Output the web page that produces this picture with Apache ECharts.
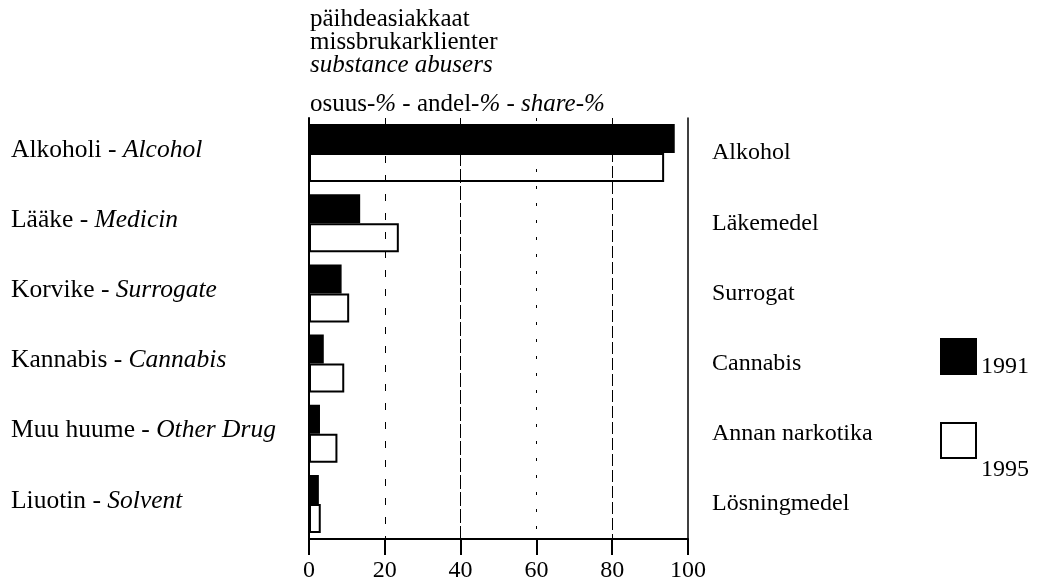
<!DOCTYPE html>
<html><head><meta charset="utf-8">
<script src="https://cdn.jsdelivr.net/npm/echarts@6/dist/echarts.min.js"></script>
<style>html,body{margin:0;padding:0;background:#fff}#c{width:1037px;height:583px}</style>
</head><body><div id="c"></div>
<script>
const catsFi = ['Alkoholi','Lääke','Korvike','Kannabis','Muu huume','Liuotin'];
const catsEn = ['Alcohol','Medicin','Surrogate','Cannabis','Other Drug','Solvent'];
const catsSv = ['Alkohol','Läkemedel','Surrogat','Cannabis','Annan narkotika','Lösningmedel'];
const v1991 = [96.5, 13.5, 8.6, 3.9, 2.9, 2.6];
const v1995 = [93.7, 23.7, 10.6, 9.3, 7.5, 3.1];
const xTicks = [0, 20, 40, 60, 80, 100];
const gridValues = [20, 40, 60, 80];

const F = 'Liberation Serif';
const FS = 24;
const chart = echarts.init(document.getElementById('c'));
const dashTypes = {20:[7,12], 40:[14,3], 60:[3,14], 80:[12,4]};
const tRich = (lh, fs) => ({
  n: {fontFamily: F, fontSize: fs, fontWeight: 'normal', lineHeight: lh, color: '#000'},
  i: {fontFamily: F, fontSize: fs, fontWeight: 'normal', fontStyle: 'italic', lineHeight: lh, color: '#000'}
});
chart.setOption({
  animation: false,
  textStyle: {fontFamily: F, color: '#000'},
  title: [
    {left: 310, top: 8, padding: 0, text: '{n|päihdeasiakkaat}\n{n|missbrukarklienter}\n{i|substance abusers}',
     textStyle: {fontWeight: 'normal', rich: tRich(23, 25)}},
    {left: 310, top: 91, padding: 0, text: '{n|osuus-}{i|%}{n| - andel-}{i|%}{n| - }{i|share-%}',
     textStyle: {fontWeight: 'normal', rich: tRich(26, 25)}}
  ],
  legend: [
    {data: ['1991'], left: 940, top: 338, padding: 0, orient: 'vertical', itemWidth: 35, itemHeight: 35, icon: 'rect',
     formatter: '{a|{name}}',
     textStyle: {fontFamily: F, fontSize: FS, color: '#000',
       rich: {a: {fontFamily: F, fontSize: FS, color: '#000', padding: [21, 0, 0, 0]}}}},
    {data: ['1995'], left: 940, top: 422, padding: 0, orient: 'vertical', itemWidth: 35, itemHeight: 35, icon: 'rect',
     formatter: '{a|{name}}',
     textStyle: {fontFamily: F, fontSize: FS, color: '#000',
       rich: {a: {fontFamily: F, fontSize: FS, color: '#000', padding: [58, 0, 0, 0]}}}}
  ],
  grid: {left: 309, right: 349, top: 118, bottom: 44, containLabel: false},
  xAxis: {
    type: 'value', min: 0, max: 100, interval: 20,
    axisLine: {show: true, lineStyle: {color: '#000', width: 2}},
    axisTick: {show: true, length: 16, lineStyle: {color: '#000', width: 2}},
    axisLabel: {margin: 20, fontFamily: F, fontSize: FS, color: '#000',
      formatter: v => xTicks.includes(v) ? String(v) : ''},
    splitLine: {show: false}
  },
  yAxis: [
    {type: 'category', inverse: true, data: catsFi, position: 'left',
     axisLine: {show: true, lineStyle: {color: '#000', width: 2}},
     axisTick: {show: false},
     axisLabel: {align: 'left', margin: 298, padding: [0, 0, 6, 0],
       formatter: (v, i) => '{n|' + catsFi[i] + ' - }{i|' + catsEn[i] + '}',
       rich: {n: {fontFamily: F, fontSize: 25.5, color: '#000'},
              i: {fontFamily: F, fontSize: 25.5, fontStyle: 'italic', color: '#000'}}}},
    {type: 'category', inverse: true, data: catsSv, position: 'right',
     axisLine: {show: true, lineStyle: {color: '#000', width: 1.5}},
     axisTick: {show: false},
     axisLabel: {align: 'left', margin: 24, padding: [0, 0, 12, 0], fontFamily: F, fontSize: FS, color: '#000'}}
  ],
  series: [
    {type: 'line', data: [], z: 1, silent: true,
     markLine: {silent: true, symbol: 'none', label: {show: false},
       data: gridValues.map(g => ({xAxis: g, lineStyle: {color: '#000', width: 1, type: dashTypes[g]}}))}},
    {name: '1991', type: 'bar', data: v1991, barWidth: 29, barGap: '0%', z: 3,
     itemStyle: {color: '#000', borderColor: '#000', borderWidth: 1.5}},
    {name: '1995', type: 'bar', data: v1995, barWidth: 29, barGap: '0%', z: 3,
     itemStyle: {color: '#fff', borderColor: '#000', borderWidth: 2}}
  ]
});
</script></body></html>
